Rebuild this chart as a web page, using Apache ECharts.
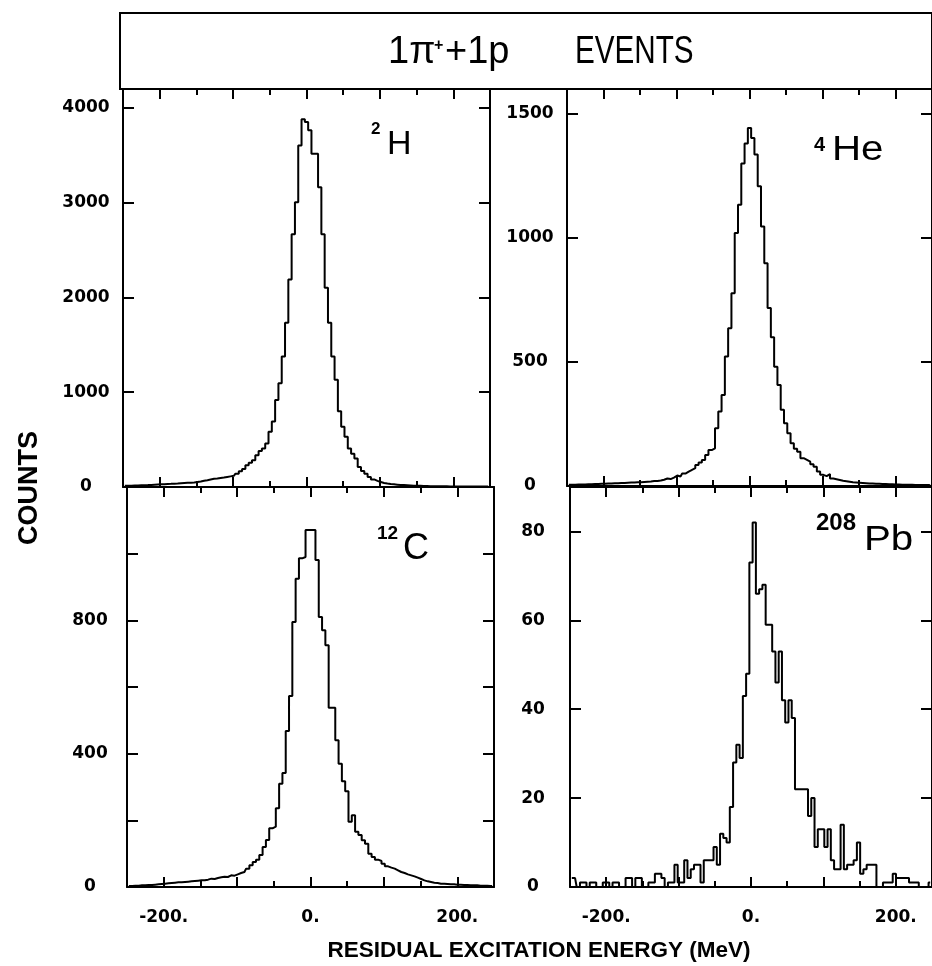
<!DOCTYPE html>
<html>
<head>
<meta charset="utf-8">
<script src="https://cdn.jsdelivr.net/npm/echarts@6/dist/echarts.min.js"></script>
<style>
  html, body { margin: 0; padding: 0; background: #fff; }
  #chart { width: 932px; height: 966px; }
</style>
</head>
<body>
<div id="chart"></div>
<script>
// bins: 4.5 MeV wide, first bin centred at -247.5 MeV
const BIN_W = 4.5;
const FIRST_CENTER = -247.5;

const xMajorTicks = [-200, -100, 0, 100, 200];
const xMinorTicks = [-150, -50, 50, 150];
const xLabels = [-200, 0, 200];

// 2H counts
const h2Counts = [
  12, 13, 14, 15, 16, 18, 19, 20, 22, 24,
  26, 28, 30, 32, 33, 35, 37, 40, 42, 44,
  46, 48, 52, 58, 65, 72, 80, 86, 90, 95,
  100, 106, 112, 118, 140, 165, 190, 230, 255, 283,
  336, 380, 406, 460, 583, 690, 919, 1096, 1378, 1732,
  2191, 2668, 3004, 3604, 3880, 3852, 3764, 3516, 3516, 3163,
  2668, 2103, 1732, 1378, 1131, 800, 636, 530, 406, 350,
  300, 212, 170, 140, 106, 80, 65, 52, 42, 36,
  31, 28, 25, 22, 20, 18, 16, 14, 13, 12,
  11, 10, 9, 9, 8, 8, 7, 7, 6, 6,
  6, 5, 5, 5, 5, 5, 4, 4, 4, 4,
  4
];

// 4He counts
const he4Counts = [
  5, 5, 5, 6, 6, 6, 7, 7, 8, 8,
  9, 9, 10, 10, 11, 11, 12, 12, 13, 14,
  14, 15, 15, 16, 17, 18, 20, 20, 22, 25,
  30, 28, 34, 42, 38, 50, 58, 65, 72, 85,
  95, 105, 125, 145, 152, 233, 300, 367, 522, 636,
  777, 1020, 1134, 1300, 1380, 1443, 1403, 1336, 1208, 1046,
  898, 717, 600, 481, 407, 307, 253, 213, 172, 150,
  138, 112, 105, 98, 88, 78, 58, 45, 40, 48,
  30, 27, 24, 21, 19, 17, 15, 14, 13, 12,
  11, 10, 10, 9, 9, 8, 8, 7, 7, 6,
  6, 5, 5, 5, 5, 4, 4, 4, 4, 4,
  3
];

// 12C counts
const c12Counts = [
  3, 3, 4, 4, 5, 5, 6, 6, 7, 8,
  9, 10, 11, 12, 13, 14, 14, 15, 16, 17,
  18, 19, 20, 20, 22, 25, 24, 27, 29, 31,
  30, 35, 34, 38, 42, 45, 55, 65, 75, 82,
  96, 120, 141, 176, 181, 236, 310, 342, 468, 573,
  795, 925, 986, 990, 1071, 1071, 1071, 981, 810, 770,
  725, 538, 538, 440, 370, 317, 287, 196, 215, 166,
  156, 140, 130, 100, 90, 82, 78, 70, 62, 58,
  55, 50, 45, 42, 38, 35, 32, 28, 24, 20,
  17, 15, 13, 12, 10, 10, 9, 8, 8, 7,
  7, 6, 6, 5, 5, 5, 4, 4, 4, 3,
  3
];

// 208Pb counts
const pb208Counts = [
  2, 2, 0, 1, 1, 0, 1, 1, 0, 0,
  1, 1, 0, 1, 1, 0, 0, 2, 2, 0,
  2, 2, 0, 0, 1, 1, 3, 3, 2, 0,
  1, 1, 5, 1, 1, 6, 2, 4, 5, 5,
  1, 6, 6, 6, 9, 5, 12, 11, 10, 18,
  28, 32, 29, 43, 48, 73, 82, 66, 67, 68,
  59, 59, 53, 46, 53, 42, 37, 42, 38, 22,
  22, 22, 22, 16, 20, 9, 13, 13, 9, 13,
  6, 4, 4, 14, 4, 5, 5, 6, 10, 3,
  4, 5, 5, 5, 0, 0, 1, 1, 1, 3,
  2, 2, 2, 2, 1, 1, 1, 0, 0, 0,
  1
];

const panels = [
  { counts: h2Counts, yMax: 4200, yTicks: [0, 1000, 2000, 3000, 4000], yLabels: [0, 1000, 2000, 3000, 4000], bottomRow: false },
  { counts: he4Counts, yMax: 1600, yTicks: [0, 500, 1000, 1500], yLabels: [0, 500, 1000, 1500], bottomRow: false },
  { counts: c12Counts, yMax: 1200, yTicks: [0, 200, 400, 600, 800, 1000], yLabels: [0, 400, 800], bottomRow: true },
  { counts: pb208Counts, yMax: 90, yTicks: [0, 20, 40, 60, 80], yLabels: [0, 20, 40, 60, 80], bottomRow: true }
];

const grids = [
  { left: 123, top: 89, width: 367, height: 398 },
  { left: 567, top: 89, width: 366, height: 397 },
  { left: 127, top: 487, width: 367, height: 400 },
  { left: 570, top: 487, width: 366, height: 400 }
];

const black = '#000';
const labelFont = { fontFamily: 'DejaVu Sans', fontWeight: 'bold', color: black };

function xAxisFor(g, position, ticks, len, withLine, withLabels) {
  return {
    type: 'value', gridIndex: g, position: position,
    min: -250, max: 250,
    axisLine: { show: withLine, onZero: false, lineStyle: { color: black, width: 2 } },
    axisTick: { show: true, inside: true, length: len, customValues: ticks, lineStyle: { color: black, width: 2 } },
    axisLabel: withLabels
      ? Object.assign({ show: true, customValues: xLabels, margin: 22, fontSize: 17,
          formatter: function (v) { return v + '.'; } }, labelFont)
      : { show: false },
    splitLine: { show: false }
  };
}

function yAxisFor(g, p, position, withLabels) {
  return {
    type: 'value', gridIndex: g, position: position,
    min: 0, max: p.yMax,
    axisLine: { show: true, onZero: false, lineStyle: { color: black, width: 2 } },
    axisTick: { show: true, inside: true, length: 11, customValues: p.yTicks, lineStyle: { color: black, width: 2 } },
    axisLabel: withLabels
      ? Object.assign({ show: true, customValues: p.yLabels, align: 'center', margin: 37, fontSize: 17,
          formatter: function (v) { return String(v); } }, labelFont)
      : { show: false },
    splitLine: { show: false }
  };
}

const xAxes = [];
const yAxes = [];
const series = [];

panels.forEach(function (p, g) {
  xAxes.push(xAxisFor(g, 'bottom', xMajorTicks, 10, true, p.bottomRow));
  xAxes.push(xAxisFor(g, 'bottom', xMinorTicks, 6, false, false));
  xAxes.push(xAxisFor(g, 'top', xMajorTicks, 10, true, false));
  xAxes.push(xAxisFor(g, 'top', xMinorTicks, 6, false, false));
  yAxes.push(yAxisFor(g, p, 'left', true));
  yAxes.push(yAxisFor(g, p, 'right', false));
  series.push({
    type: 'line',
    xAxisIndex: g * 4,
    yAxisIndex: g * 2,
    step: 'middle',
    symbol: 'none',
    silent: true,
    lineStyle: { color: black, width: 2 },
    data: p.counts.map(function (v, i) { return [FIRST_CENTER + i * BIN_W, v]; })
  });
});

// text placed by its baseline; canvas "middle" sits ~0.35em above the baseline
function txt(x, baseline, text, size, weight, scaleX, align) {
  return {
    type: 'text', x: x, y: baseline - 0.35 * size, silent: true,
    scaleX: scaleX || 1, originX: 0,
    style: {
      text: text, fill: black,
      font: (weight || 'normal') + ' ' + size + 'px "Liberation Sans"',
      textAlign: align || 'left', align: align || 'left',
      textVerticalAlign: 'middle', verticalAlign: 'middle'
    }
  };
}

const graphics = [
  { type: 'rect', silent: true, shape: { x: 120, y: 13, width: 812, height: 76 },
    style: { fill: 'none', stroke: black, lineWidth: 2 } },
  // title
  txt(388, 66, '1\u03c0', 38),
  txt(434, 51, '+', 16, 'bold'),
  txt(445, 66, '+1p', 38),
  txt(575, 66, 'EVENTS', 38, 'normal', 0.78),
  // nuclei
  txt(371, 135, '2', 17, 'bold'),
  txt(387, 157, 'H', 34),
  txt(814, 152, '4', 20, 'bold'),
  txt(832, 163, 'He', 35, 'normal', 1.15),
  txt(377, 540, '12', 19, 'bold'),
  txt(403, 562, 'C', 36),
  txt(816, 532, '208', 24, 'bold'),
  txt(864, 553, 'Pb', 35, 'normal', 1.15),
  // axis titles
  { type: 'text', x: 30, y: 488, rotation: Math.PI / 2, silent: true,
    style: { text: 'COUNTS', font: 'bold 27px "Liberation Sans"', fill: black,
      textAlign: 'center', textVerticalAlign: 'middle', align: 'center', verticalAlign: 'middle' } },
  { type: 'text', x: 539, y: 951, silent: true,
    style: { text: 'RESIDUAL EXCITATION ENERGY (MeV)', font: 'bold 22.5px "Liberation Sans"', fill: black,
      textAlign: 'center', textVerticalAlign: 'middle', align: 'center', verticalAlign: 'middle' } }
];

const chart = echarts.init(document.getElementById('chart'), null, { renderer: 'canvas' });
chart.setOption({
  backgroundColor: '#fff',
  animation: false,
  grid: grids,
  xAxis: xAxes,
  yAxis: yAxes,
  series: series,
  graphic: graphics
});
</script>
</body>
</html>
